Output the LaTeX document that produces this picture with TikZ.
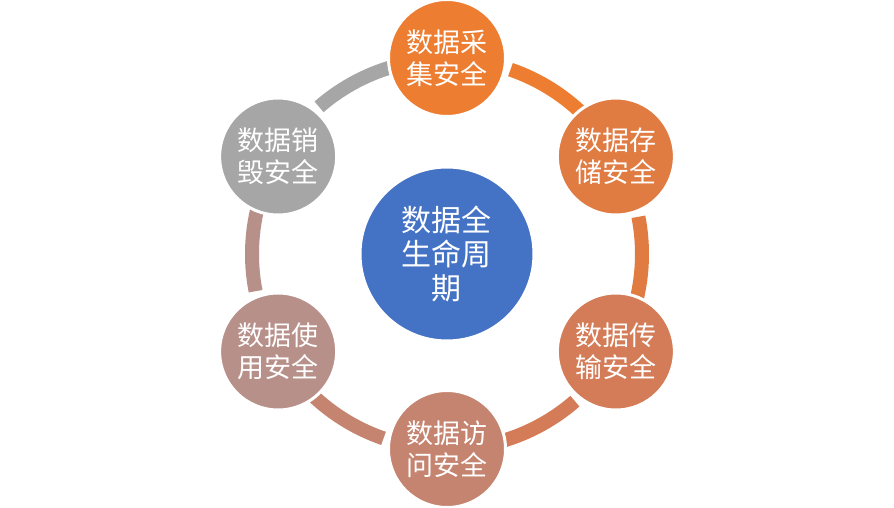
\documentclass[tikz,border=0pt]{standalone}
\usepackage{fontspec}
\newfontfamily\cjk{Noto Sans CJK SC}
\definecolor{caiC}{HTML}{ED7D31}
\definecolor{cunC}{HTML}{E07B42}
\definecolor{chuanC}{HTML}{D47C57}
\definecolor{fangC}{HTML}{C5846F}
\definecolor{yongC}{HTML}{B8908A}
\definecolor{xiaoC}{HTML}{A6A6A6}
\definecolor{coreC}{HTML}{4472C4}
\tikzset{
  stage/.style={circle, draw=white, line width=3pt, minimum size=117pt, inner sep=0pt,
    align=center, text=white, font=\cjk\fontsize{27pt}{32pt}\selectfont},
  core/.style={circle, draw=white, line width=2pt, fill=coreC, minimum size=173pt, inner sep=0pt,
    align=center, text=white, font=\cjk\fontsize{30pt}{34pt}\selectfont},
  ring/.style={line width=14pt}
}
\begin{document}
\begin{tikzpicture}
\useasboundingbox (-447pt,-254pt) rectangle (447pt,254pt);
\coordinate (a1) at (71:195pt);
\coordinate (a2) at (11:195pt);
\coordinate (a3) at (-49:195pt);
\coordinate (a4) at (-109:195pt);
\coordinate (a5) at (-169:195pt);
\coordinate (a6) at (131:195pt);
\draw[ring, draw=caiC] (a1) arc[start angle=71, end angle=44, radius=195pt];
\draw[ring, draw=cunC] (a2) arc[start angle=11, end angle=-16, radius=195pt];
\draw[ring, draw=chuanC] (a3) arc[start angle=-49, end angle=-76, radius=195pt];
\draw[ring, draw=fangC] (a4) arc[start angle=-109, end angle=-136, radius=195pt];
\draw[ring, draw=yongC] (a5) arc[start angle=-169, end angle=-196, radius=195pt];
\draw[ring, draw=xiaoC] (a6) arc[start angle=131, end angle=104, radius=195pt];
\node[core] (zhouqi) at (0,0) {数据全\\生命周\\期};
\node[stage, fill=caiC] (cai) at (90:196pt) {数据采\\集安全};
\node[stage, fill=cunC] (cun) at (30:195pt) {数据存\\储安全};
\node[stage, fill=chuanC] (chuan) at (-30:195pt) {数据传\\输安全};
\node[stage, fill=fangC] (fang) at (-90:195pt) {数据访\\问安全};
\node[stage, fill=yongC] (yong) at (-150:195pt) {数据使\\用安全};
\node[stage, fill=xiaoC] (xiao) at (150:195pt) {数据销\\毁安全};
\end{tikzpicture}
\end{document}
